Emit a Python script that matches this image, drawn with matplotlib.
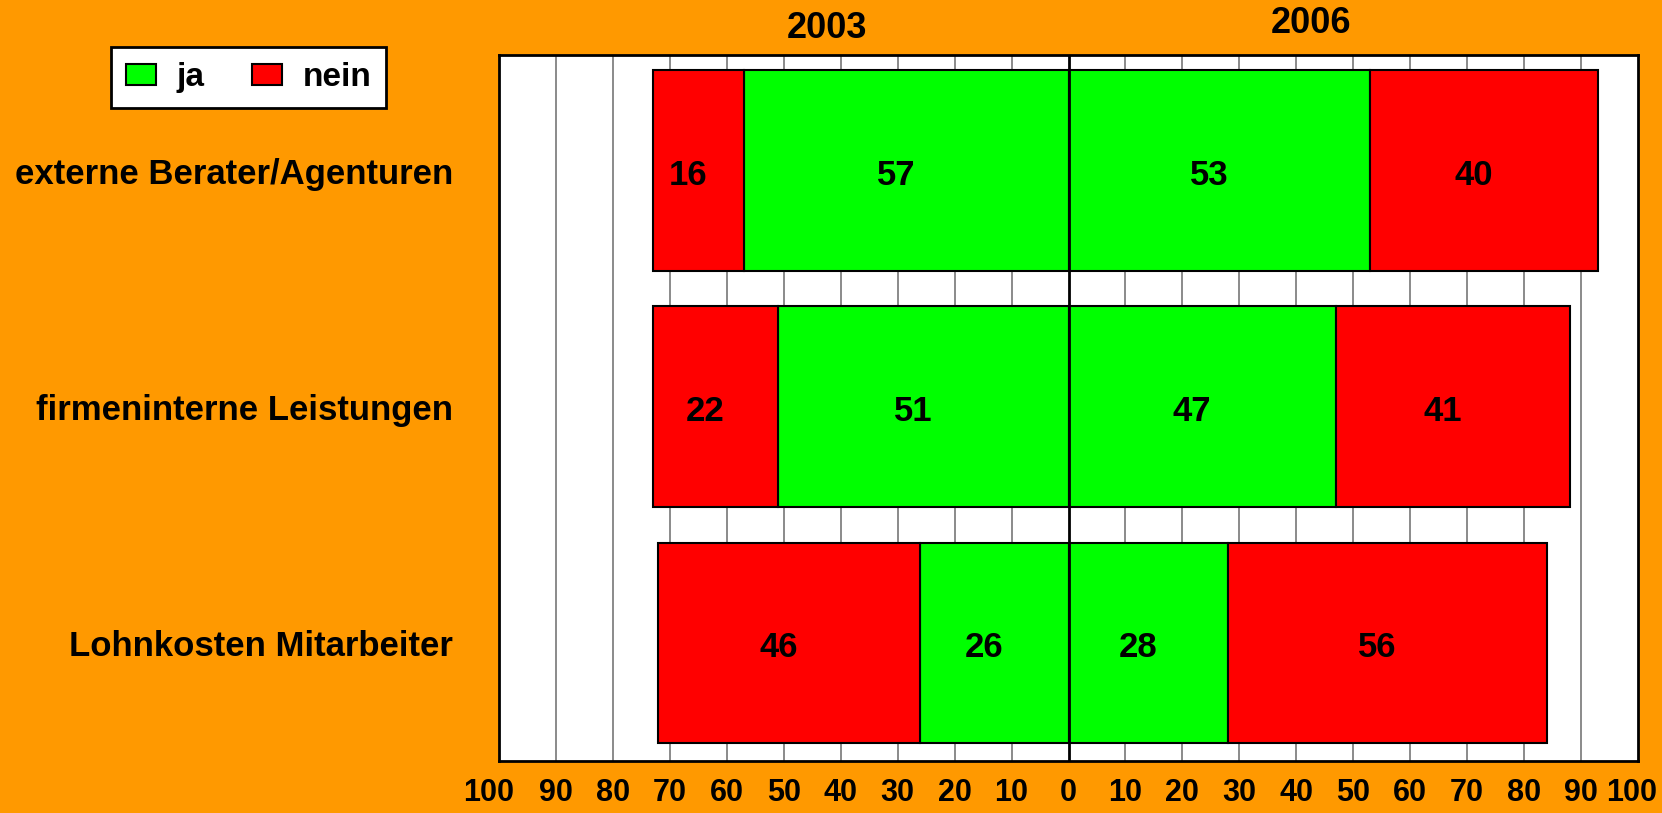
import matplotlib
matplotlib.use("Agg")
import matplotlib.pyplot as plt
from matplotlib.patches import Patch
import numpy as np

# daten aus der grafik
categories = ['externe Berater/Agenturen', 'firmeninterne Leistungen', 'Lohnkosten Mitarbeiter']
ja_2003 = [57, 51, 26]
nein_2003 = [16, 22, 46]
ja_2006 = [53, 47, 28]
nein_2006 = [40, 41, 56]
years = ['2003', '2006']
tick_values = list(range(-100, 101, 10))

ORANGE = '#FF9900'
GREEN = '#00FF00'
RED = '#FF0000'

plt.rcParams['font.family'] = ['Liberation Sans', 'DejaVu Sans']
plt.rcParams['font.weight'] = 'bold'

fig = plt.figure(figsize=(16.62, 8.13), dpi=100, facecolor=ORANGE)
ax = fig.add_axes([499 / 1662, 1 - 761 / 813, (1638 - 499) / 1662, (761 - 55) / 813])
ax.set_facecolor('white')

y = np.arange(len(categories))
h = 0.85
ja3 = np.array(ja_2003)
ne3 = np.array(nein_2003)
ja6 = np.array(ja_2006)
ne6 = np.array(nein_2006)

kw = dict(height=h, edgecolor='black', linewidth=1.5, zorder=3)
ax.barh(y, -ja3, color=GREEN, **kw)
ax.barh(y, -ne3, left=-ja3, color=RED, **kw)
ax.barh(y, ja6, color=GREEN, **kw)
ax.barh(y, ne6, left=ja6, color=RED, **kw)

vfs = 25
dx, dy = -1.8, 0.02  # beschriftung leicht versetzt wie im original
for i in range(len(categories)):
    for xc, val in [(-ja3[i] / 2, ja3[i]), (-ja3[i] - ne3[i] / 2, ne3[i]),
                    (ja6[i] / 2, ja6[i]), (ja6[i] + ne6[i] / 2, ne6[i])]:
        ax.text(xc + dx, y[i] + dy, str(val), ha='center', va='center',
                fontsize=vfs, fontweight='bold', zorder=4)

ax.set_xlim(-100, 100)
ax.set_ylim(2.5, -0.49)

# gitterlinien
for v in tick_values[1:-1]:
    if v == 0:
        ax.axvline(0, color='black', linewidth=2, zorder=5)
    else:
        ax.axvline(v, color='#777777', linewidth=1.2, zorder=1)

# x-beschriftung als text, damit die randlabels nach innen rutschen koennen
ax.set_xticks([])
xt = ax.get_xaxis_transform()
for v in tick_values:
    xpos = v
    if v == -100:
        xpos = -101.8
    elif v == 100:
        xpos = 98.8
    ax.text(xpos, -0.0236, str(abs(v)), transform=xt, ha='center', va='top',
            fontsize=22, fontweight='bold', clip_on=False)

ax.set_yticks(y)
ax.set_yticklabels(categories, fontsize=25, fontweight='bold')
ax.tick_params(axis='y', length=0, pad=33)

for s in ax.spines.values():
    s.set_linewidth(2)
    s.set_color('black')

ax.text(-42.5, 1.0234, years[0], transform=xt, ha='center', va='baseline', fontsize=26, fontweight='bold')
ax.text(42.5, 1.031, years[1], transform=xt, ha='center', va='baseline', fontsize=26, fontweight='bold')

handles = [Patch(facecolor=GREEN, edgecolor='black', linewidth=1.5, label='ja'),
           Patch(facecolor=RED, edgecolor='black', linewidth=1.5, label='nein')]
leg = fig.legend(handles=handles, loc='upper left', bbox_to_anchor=(111 / 1662, 1 - 47 / 813),
                 ncol=2, fontsize=24, frameon=True, fancybox=False, borderaxespad=0,
                 handlelength=0.9, handleheight=0.6, columnspacing=1.45, handletextpad=0.6,
                 borderpad=0.45, framealpha=1)
leg.get_frame().set_facecolor('white')
leg.get_frame().set_edgecolor('black')
leg.get_frame().set_linewidth(2)
for t in leg.get_texts():
    t.set_fontweight('bold')

fig.savefig('out.png', dpi=100, facecolor=ORANGE)
